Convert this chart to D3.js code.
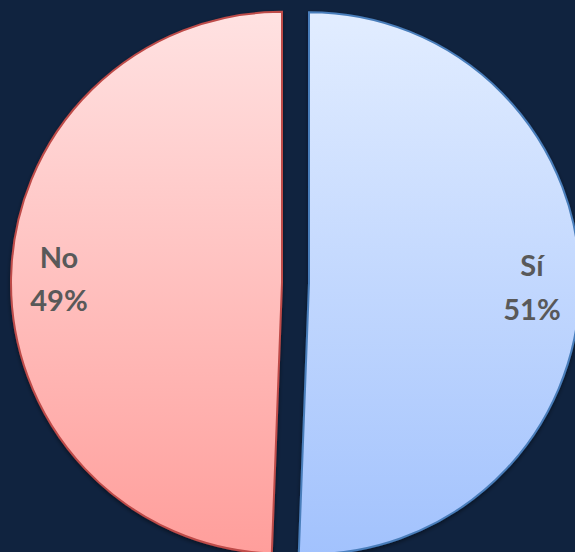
<!DOCTYPE html>
<html><head><meta charset="utf-8">
<script src="https://cdn.jsdelivr.net/npm/d3@7"></script>
<style>html,body{margin:0;padding:0;background:#10233f;overflow:hidden}</style>
</head><body>
<svg id="chart" width="575" height="552"></svg>
<script>
const categories = ["Sí", "No"];
const values = [50.6, 49.4];
const labels = ["51%", "49%"];

const W = 575, H = 552;
const cx = 295.5, cy = 283, r = 271, explode = 13.5;
const svg = d3.select("#chart");
svg.append("rect").attr("width", W).attr("height", H).attr("fill", "#10233f");

const defs = svg.append("defs");
const grads = [
  {id: "gSi", top: "#e2edff", bot: "#a2c2fd"},
  {id: "gNo", top: "#ffe2e2", bot: "#ff9e9b"}
];
grads.forEach(g => {
  const lg = defs.append("linearGradient").attr("id", g.id)
    .attr("gradientUnits", "userSpaceOnUse")
    .attr("x1", 0).attr("y1", -r).attr("x2", 0).attr("y2", r);
  lg.append("stop").attr("offset", 0).attr("stop-color", g.top);
  lg.append("stop").attr("offset", 1).attr("stop-color", g.bot);
});
const f = defs.append("filter").attr("id", "sh")
  .attr("x", "-10%").attr("y", "-10%").attr("width", "120%").attr("height", "120%");
f.append("feDropShadow").attr("dx", 0).attr("dy", 2).attr("stdDeviation", 2)
  .attr("flood-color", "#000").attr("flood-opacity", 0.45);

const fills = ["url(#gSi)", "url(#gNo)"];
const strokes = ["#4a7ebb", "#be4b48"];

const pie = d3.pie().sort(null).value(d => d);
const arcs = pie(values);
const arc = d3.arc().innerRadius(0).outerRadius(r);

const g = svg.append("g");
arcs.forEach((a, i) => {
  const mid = (a.startAngle + a.endAngle) / 2;
  const dx = explode * Math.sin(mid), dy = -explode * Math.cos(mid);
  const sg = g.append("g").attr("transform", `translate(${cx + dx},${cy + dy})`);
  sg.append("path").attr("d", arc(a)).attr("fill", fills[i])
    .attr("stroke", strokes[i]).attr("stroke-width", 2)
    .attr("filter", "url(#sh)");
});
arcs.forEach((a, i) => {
  const mid = (a.startAngle + a.endAngle) / 2;
  const dx = explode * Math.sin(mid), dy = -explode * Math.cos(mid);
  const lr = r * 0.823;
  const lx = cx + dx + lr * Math.sin(mid), ly = cy + dy - lr * Math.cos(mid);
  const t = svg.append("text").attr("text-anchor", "middle")
    .attr("font-family", "Lato, 'Open Sans', sans-serif").attr("font-weight", "bold")
    .attr("font-size", 29).attr("fill", "#595959");
  t.append("tspan").attr("x", lx).attr("y", ly - 11).text(categories[i]);
  t.append("tspan").attr("x", lx).attr("y", ly + 32.5).text(labels[i]);
});
</script>
</body></html>
